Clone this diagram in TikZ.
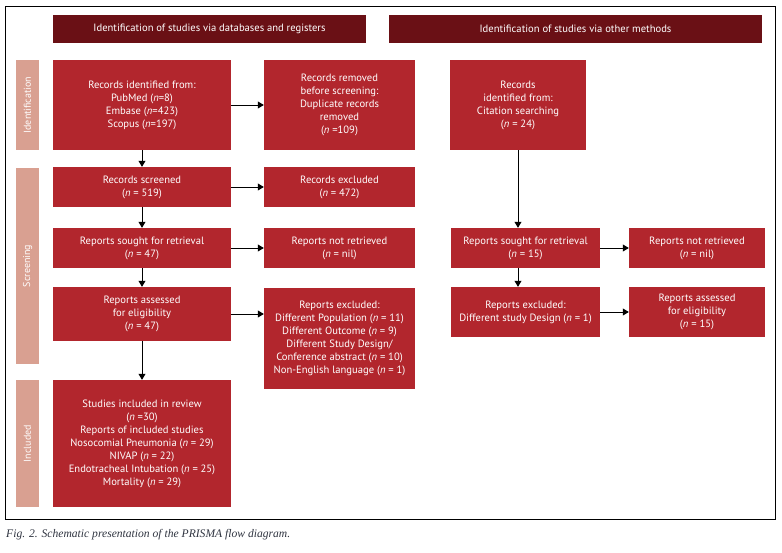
\documentclass[tikz,border=0pt]{standalone}
\usepackage{fontspec}
\setmainfont{PT Sans}
\newfontfamily\capfont{Liberation Serif}
\usetikzlibrary{arrows.meta}
\definecolor{boxred}{HTML}{B2262D}
\definecolor{hdrred}{HTML}{6A1015}
\definecolor{sidepink}{HTML}{D9A091}
\definecolor{capgray}{HTML}{2F3440}
\tikzset{
  box/.style={fill=boxred, text=white, draw=none, inner sep=0pt, align=center,
    font=\fontsize{10.6}{13}\selectfont},
  hdr/.style={fill=hdrred, text=white, draw=none, inner sep=0pt, align=center,
    font=\fontsize{10.6}{12}\selectfont},
  side/.style={fill=sidepink, draw=none, inner sep=0pt},
  sidetext/.style={text=white, rotate=90, font=\fontsize{10}{11}\selectfont},
  arr/.style={draw=black, line width=0.8pt, -{Triangle[length=6pt,width=7pt]}},
  frame/.style={draw=black, line width=0.8pt}
}
\newcommand{\nn}{\textit{n}}
\begin{document}
\begin{tikzpicture}[x=1pt,y=-1pt]
\useasboundingbox (0,0) rectangle (782,552);
\draw[frame] (5,6) rectangle (775,519);

% headers
\node[hdr, minimum width=313pt, minimum height=28pt] (hA) at (209.5,29) {Identification of studies via databases and registers};
\node[hdr, minimum width=373pt, minimum height=28pt] (hB) at (575.5,29) {Identification of studies via other methods};

% side bars
\node[side, minimum width=23pt, minimum height=90pt] (sI) at (27.5,105) {};
\node[sidetext] (tI) at (sI.center) {Identification};
\node[side, minimum width=23pt, minimum height=196pt] (sS) at (27.5,266) {};
\node[sidetext] (tS) at (sS.center) {Screening};
\node[side, minimum width=23pt, minimum height=127pt] (sN) at (27.5,443.5) {};
\node[sidetext] (tN) at (sN.center) {Included};

% left column
\node[box, minimum width=178pt, minimum height=90pt] (rid) at (142,105) {Records identified from:\\PubMed (\nn=8)\\Embase (\nn=423)\\Scopus (\nn=197)};
\node[box, minimum width=178pt, minimum height=40pt] (scr) at (142,187) {Records screened\\(\nn{} = 519)};
\node[box, minimum width=178pt, minimum height=40pt] (sought) at (142,248) {Reports sought for retrieval\\(\nn{} = 47)};
\node[box, minimum width=178pt, minimum height=54pt] (assess) at (142,314) {Reports assessed\\for eligibility\\(\nn{} = 47)};
\node[box, minimum width=178pt, minimum height=127pt] (incl) at (142,443.5) {Studies included in review\\(\nn{} =30)\\Reports of included studies\\Nosocomial Pneumonia (\nn{} = 29)\\NIVAP (\nn{} = 22)\\Endotracheal Intubation (\nn{} = 25)\\Mortality (\nn{} = 29)};

% middle column
\node[box, minimum width=151pt, minimum height=90pt] (rem) at (339.5,105) {Records removed\\before screening:\\Duplicate records\\removed\\(\nn{} =109)};
\node[box, minimum width=151pt, minimum height=40pt] (exc) at (339.5,187) {Records excluded\\(\nn{} = 472)};
\node[box, minimum width=151pt, minimum height=40pt] (notret) at (339.5,248) {Reports not retrieved\\(\nn{} = nil)};
\node[box, minimum width=151pt, minimum height=101pt] (exrep) at (339.5,338.5) {Reports excluded:\\Different Population (\nn{} = 11)\\Different Outcome (\nn{} = 9)\\Different Study Design/\\Conference abstract (\nn{} = 10)\\Non-English language (\nn{} = 1)};

% right columns
\node[box, minimum width=136pt, minimum height=90pt] (cit) at (518,105) {Records\\identified from:\\Citation searching\\(\nn{} = 24)};
\node[box, minimum width=149pt, minimum height=40pt] (sought2) at (525.5,248) {Reports sought for retrieval\\(\nn{} = 15)};
\node[box, minimum width=149pt, minimum height=50pt] (exc2) at (525.5,312) {Reports excluded:\\Different study Design (\nn{} = 1)};
\node[box, minimum width=136pt, minimum height=40pt] (notret2) at (697,248) {Reports not retrieved\\(\nn{} = nil)};
\node[box, minimum width=136pt, minimum height=50pt] (assess2) at (697,312) {Reports assessed\\for eligibility\\(\nn{} = 15)};

% connectors
\draw[arr] (rid.east) -- (rem.west);
\draw[arr] (rid.south) -- (scr.north);
\draw[arr] (scr.east) -- (exc.west);
\draw[arr] (scr.south) -- (sought.north);
\draw[arr] (sought.east) -- (notret.west);
\draw[arr] (sought.south) -- (assess.north);
\draw[arr] (assess.east) -- (exrep.west |- assess.east);
\draw[arr] (assess.south) -- (incl.north);
\draw[arr] (cit.south) -- (cit.south |- sought2.north);
\draw[arr] (sought2.east) -- (notret2.west);
\draw[arr] (sought2.south -| cit.south) -- (exc2.north -| cit.south);
\draw[arr] (exc2.east) -- (assess2.west);

% caption
\node[anchor=base west, inner sep=0pt, text=capgray, font=\capfont\itshape\fontsize{11.6}{13}\selectfont] (cap) at (6,537) {Fig. 2. Schematic presentation of the PRISMA flow diagram.};
\end{tikzpicture}
\end{document}
